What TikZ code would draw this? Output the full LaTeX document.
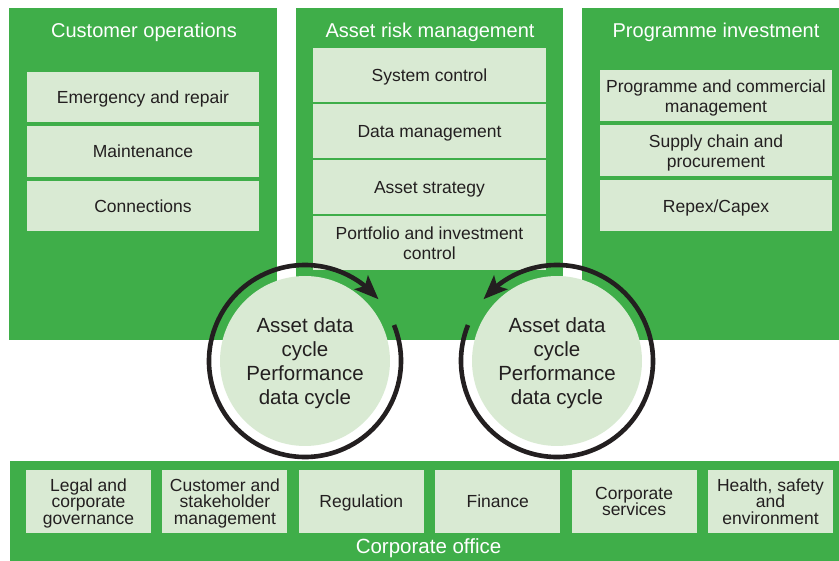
\documentclass[tikz,border=0pt]{standalone}
\usepackage{fontspec}
\setmainfont{Liberation Sans}
\usetikzlibrary{arrows.meta,positioning,bending}
\definecolor{ngreen}{HTML}{3FAE49}
\definecolor{nlight}{HTML}{D9EAD3}
\definecolor{ntext}{HTML}{231F20}

\begin{document}
\begin{tikzpicture}[x=1pt,y=-1pt,node distance=4pt and 11.4pt,
panel/.style={fill=ngreen,inner sep=0pt,outer sep=0pt},
head/.style={text=white,inner sep=0pt,text depth=0pt,font=\fontsize{20}{24}\selectfont},
unit/.style={fill=nlight,text=ntext,align=center,inner sep=0pt,outer sep=0pt,text depth=0pt,minimum width=232pt,minimum height=50.5pt,font=\fontsize{17.5}{20}\selectfont},
func/.style={unit,minimum width=125pt,minimum height=63pt,font=\fontsize{17.5}{16.7}\selectfont},
hub/.style={circle,fill=nlight,text=ntext,align=center,minimum size=170pt,inner sep=0pt,text depth=0pt,font=\fontsize{20.5}{24}\selectfont},
cyclearrow/.style={ntext,line width=4.6pt,-{Stealth[length=24pt,width=19pt,inset=5pt]}}]
\useasboundingbox (0,0) rectangle (839,561);
\node[panel,minimum width=268pt,minimum height=332pt] (cust) at (143,174) {};
\node[panel,minimum width=267pt,minimum height=332pt] (asset) at (429.5,174) {};
\node[panel,minimum width=257pt,minimum height=332pt] (prog) at (710.5,174) {};
\node[panel,minimum width=829pt,minimum height=100pt] (corp) at (424.5,511) {};
\node[head] (custhead) at (144,30) {Customer operations};
\node[head] (assethead) at (430,30) {Asset risk management};
\node[head] (proghead) at (716,30) {Programme investment};
\node[head,font=\fontsize{20.5}{24}\selectfont] (corphead) at (428.5,546) {Corporate office};
\node[unit] (emerg) at (143,97) {Emergency and repair};
\node[unit,below=of emerg] (maint) {Maintenance};
\node[unit,below=of maint] (conn) {Connections};
\node[unit,minimum width=233pt,minimum height=54pt] (sysctl) at (429.5,75) {System control};
\node[unit,minimum width=233pt,minimum height=54pt,below=2pt of sysctl] (datamgmt) {Data management};
\node[unit,minimum width=233pt,minimum height=54pt,below=2pt of datamgmt] (strategy) {Asset strategy};
\node[unit,minimum width=233pt,minimum height=54pt,below=2pt of strategy] (portfolio) {Portfolio and investment\\control};
\node[unit,minimum height=51pt] (commercial) at (716,96) {Programme and commercial\\management};
\node[unit,minimum height=51pt,below=of commercial] (supply) {Supply chain and\\procurement};
\node[unit,minimum height=51pt,below=of supply] (repex) {Repex/Capex};
\node[func] (legal) at (88.5,501.5) {Legal and\\corporate\\governance};
\node[func,right=of legal] (stake) {Customer and\\stakeholder\\management};
\node[func,right=of stake] (reg) {Regulation};
\node[func,right=of reg] (fin) {Finance};
\node[func,right=of fin] (services) {Corporate\\services};
\node[func,right=of services] (hse) {Health, safety\\and\\environment};
\node[hub] (lcycle) at (305,361) {Asset data\\cycle\\Performance\\data cycle};
\node[hub] (rcycle) at (557,361) {Asset data\\cycle\\Performance\\data cycle};
\draw[cyclearrow] (lcycle.center) ++(22:96pt) arc[start angle=22,end angle=-320,radius=96pt];
\draw[cyclearrow] (rcycle.center) ++(158:96pt) arc[start angle=158,end angle=500,radius=96pt];
\end{tikzpicture}
\end{document}
